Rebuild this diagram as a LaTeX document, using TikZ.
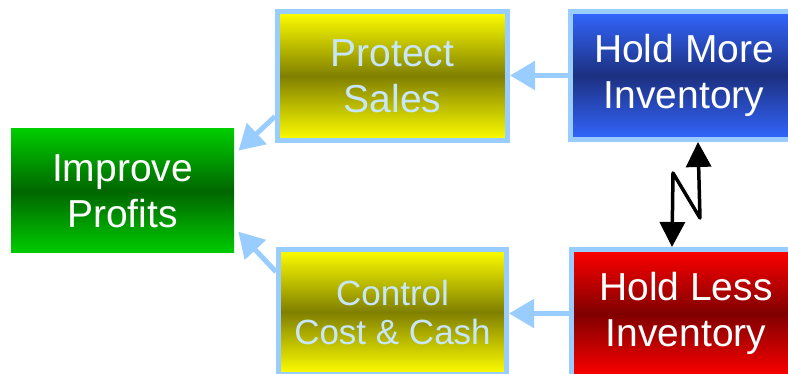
\documentclass[tikz,border=0pt]{standalone}
\usepackage{fontspec}
\setmainfont{Liberation Sans}
\usetikzlibrary{arrows.meta,calc}

\definecolor{edgeblue}{HTML}{99CCFF}
\definecolor{paletext}{HTML}{C8E6FA}

\tikzset{
  box/.style={rectangle, inner sep=0pt, align=center,
    font=\fontsize{39}{46}\selectfont},
  framed/.style={box, draw=edgeblue, line width=5pt},
  greenbox/.style={box, top color=green!80!black, bottom color=green!80!black,
    middle color=green!40!black, text=white},
  yellowbox/.style={framed, top color=yellow, bottom color=yellow,
    middle color={rgb,255:red,128;green,128;blue,0}, text=paletext},
  bluebox/.style={framed, top color={rgb,255:red,51;green,102;blue,255},
    bottom color={rgb,255:red,51;green,102;blue,255},
    middle color={rgb,255:red,28;green,48;blue,128}, text=white},
  redbox/.style={framed, top color=red, bottom color=red,
    middle color={rgb,255:red,128;green,0;blue,0}, text=white},
  flow/.style={draw=edgeblue, line width=5pt,
    -{Triangle[length=25pt,width=28pt]}},
  tradeoff/.style={draw=black, line width=3.5pt, line join=round,
    {Triangle[length=25pt,width=25pt]}-{Triangle[length=25pt,width=25pt]}},
}

\begin{document}
\begin{tikzpicture}[x=1pt, y=-1pt]
  \useasboundingbox (0,0) rectangle (788,374);
  \clip (0,0) rectangle (788,374);

  % goal box
  \node[greenbox, minimum width=223pt, minimum height=124pt]
    (ip) at (122.5,191) {Improve\\Profits};

  % intermediate objectives
  \node[yellowbox, minimum width=230pt, minimum height=129pt]
    (ps) at (392.5,76) {Protect\\Sales};
  \node[yellowbox, minimum width=228pt, minimum height=125pt,
        font=\fontsize{35}{39}\selectfont]
    (cc) at (392.5,312) {Control\\Cost \& Cash};

  % inventory policies
  \node[bluebox, minimum width=227pt, minimum height=128pt]
    (hm) at (684,75.5) {Hold More\\Inventory};
  \node[redbox, minimum width=229pt, minimum height=128pt]
    (hl) at (686,313.5) {Hold Less\\Inventory};

  % contributions
  \draw[flow] (hm.west) -- (hm.west -| ps.east);
  \draw[flow] (hl.west) -- (hl.west -| cc.east);
  \draw[flow, shorten >=6pt] (ps.199) -- (ip.18);
  \draw[flow, shorten >=6pt] (cc.161) -- (ip.-18);

  % conflict between the two policies
  \coordinate (z1) at (673,173);
  \coordinate (z2) at (700,218);
  \draw[tradeoff] ($(hl.north)+(-14,0)$) -- (z1) -- (z2) -- ($(hm.south)+(14,0)$);
\end{tikzpicture}
\end{document}
